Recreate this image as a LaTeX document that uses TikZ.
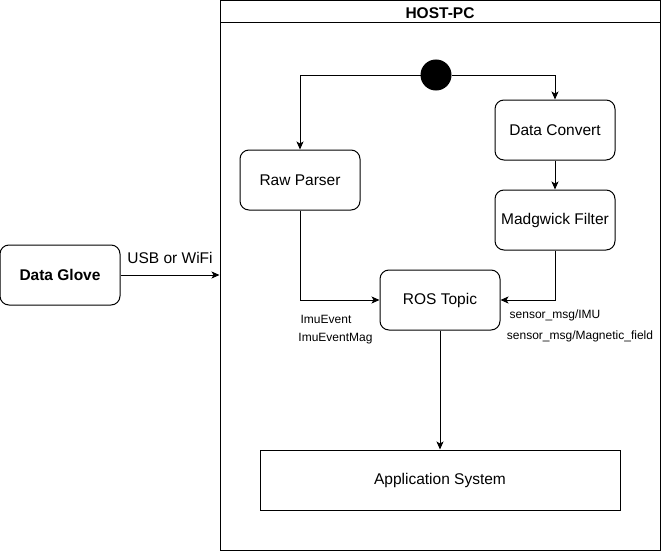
\documentclass[tikz,border=0pt]{standalone}
\usepackage{fontspec}
\setmainfont{Liberation Sans}
\usetikzlibrary{arrows.meta}
\begin{document}
\begin{tikzpicture}[x=1pt,y=-1pt,line width=1pt,
  >={Stealth[length=8pt,width=7pt,inset=2pt]},
  stbox/.style={draw,rounded corners=9pt,minimum width=120pt,minimum height=60pt,inner sep=0pt,font=\fontsize{15.5}{18}\selectfont},
  lbl/.style={inner sep=0pt,font=\fontsize{12}{14}\selectfont}]
\useasboundingbox (0,0) rectangle (661,551);
% host frame
\node[draw,minimum width=440pt,minimum height=549pt,inner sep=0pt] (host) at (440,275.5) {};
\draw (220,23) -- (660,23);
\node[font=\bfseries\fontsize{15.5}{18}\selectfont,inner sep=0pt] (title) at (440,13) {HOST-PC};
% glove
\node[stbox,font=\bfseries\fontsize{15.5}{18}\selectfont] (glove) at (60,275) {Data Glove};
\coordinate (hostin) at (host.west |- glove.east);
\draw[->] (glove.east) -- (hostin);
\node[inner sep=0pt,font=\fontsize{15.5}{18}\selectfont] (usb) at (170,258) {USB or WiFi};
% start
\node[circle,fill=black,draw,minimum size=30pt,inner sep=0pt] (start) at (436,75) {};
\node[stbox] (raw) at (300,180) {Raw Parser};
\node[stbox] (conv) at (555,130) {Data Convert};
\node[stbox] (madg) at (555,220) {Madgwick Filter};
\node[stbox] (ros) at (440,300) {ROS Topic};
\node[draw,minimum width=360pt,minimum height=60pt,inner sep=0pt,font=\fontsize{15.5}{18}\selectfont] (app) at (440,480) {Application System};
\draw[->] (start.west) -| (raw.north);
\draw[->] (start.east) -| (conv.north);
\draw[->] (conv) -- (madg);
\draw[->] (raw.south) |- (ros.west);
\draw[->] (madg.south) |- (ros.east);
\draw[->] (ros) -- (app);
\node[lbl] (l1) at (326,319) {ImuEvent};
\node[lbl] (l2) at (335.5,339) {ImuEventMag};
\node[lbl] (l3) at (555,315) {sensor\_msg/IMU};
\node[lbl] (l4) at (580,336) {sensor\_msg/Magnetic\_field};
\end{tikzpicture}
\end{document}
